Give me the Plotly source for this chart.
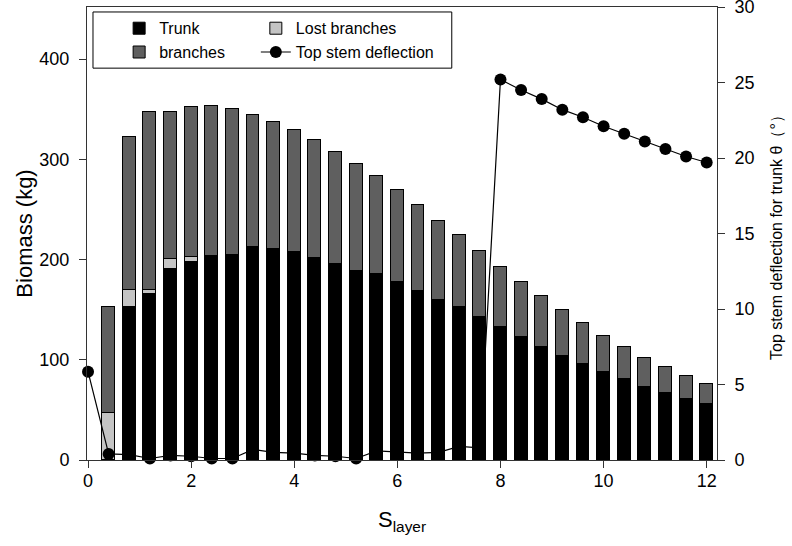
import plotly.graph_objects as go

# ---- data ----
s_layer = [0.4, 0.8, 1.2, 1.6, 2.0, 2.4, 2.8, 3.2, 3.6, 4.0,
           4.4, 4.8, 5.2, 5.6, 6.0, 6.4, 6.8, 7.2, 7.6, 8.0,
           8.4, 8.8, 9.2, 9.6, 10.0, 10.4, 10.8, 11.2, 11.6, 12.0]
total_biomass = [153, 322.5, 347.5, 347.5, 352, 353, 350, 344, 337, 329,
                 319, 307.5, 295, 283, 269, 254, 238.7, 224.4, 208.5, 192.8,
                 178, 163.6, 149.6, 136.4, 124, 112.5, 101.5, 93, 84, 75.8]
trunk = [0, 152.6, 165.6, 190.5, 197.5, 203.5, 204.5, 212.8, 210.5, 207.2,
         202, 195.5, 188.5, 186, 178, 169, 159.6, 152.3, 142.3, 132.4,
         122.4, 113, 104, 95.8, 87.5, 80.5, 73.1, 66.5, 60.8, 55.6]
lost_branches = [47, 17, 4, 10, 5, 0, 0, 0, 0, 0,
                 0, 0, 0, 0, 0, 0, 0, 0, 0, 0,
                 0, 0, 0, 0, 0, 0, 0, 0, 0, 0]
branches = [round(t - tr - lb, 1) for t, tr, lb in zip(total_biomass, trunk, lost_branches)]

s_deflect = [0.0, 0.4, 0.8, 1.2, 1.6, 2.0, 2.4, 2.8, 3.2, 3.6, 4.0,
             4.4, 4.8, 5.2, 5.6, 6.0, 6.4, 6.8, 7.2, 7.6, 8.0,
             8.4, 8.8, 9.2, 9.6, 10.0, 10.4, 10.8, 11.2, 11.6, 12.0]
deflection = [5.85, 0.4, 0.35, 0.1, 0.3, 0.25, 0.1, 0.1, 0.7, 0.5, 0.45,
              0.3, 0.25, 0.1, 0.6, 0.5, 0.45, 0.5, 0.9, 0.8, 25.2,
              24.5, 23.9, 23.2, 22.7, 22.1, 21.6, 21.1, 20.6, 20.1, 19.7]

x_ticks = [0, 2, 4, 6, 8, 10, 12]
left_ticks = [0, 100, 200, 300, 400]
right_ticks = [0, 5, 10, 15, 20, 25, 30]

FONT = "Liberation Sans, Arial, sans-serif"
bar_line = dict(color="#000000", width=1)

fig = go.Figure()

fig.add_trace(go.Bar(x=s_layer, y=trunk, name="Trunk", width=0.25,
                     marker=dict(color="#000000", line=bar_line),
                     yaxis="y", legend="legend", legendrank=1))
fig.add_trace(go.Bar(x=s_layer, y=lost_branches, name="Lost branches", width=0.25,
                     marker=dict(color="#c4c4c4", line=bar_line),
                     yaxis="y", legend="legend2", legendrank=1))
fig.add_trace(go.Bar(x=s_layer, y=branches, name="branches", width=0.25,
                     marker=dict(color="#5f5f5f", line=bar_line),
                     yaxis="y", legend="legend", legendrank=2))

# deflection line on the right-hand axis
fig.add_trace(go.Scatter(
    x=s_deflect, y=deflection, mode="lines+markers", name="Top stem deflection",
    line=dict(color="#000000", width=1.2),
    marker=dict(color="#000000", size=12),
    cliponaxis=False, yaxis="y2", legend="legend2", legendrank=2))

axis_col = "#333333"
fig.update_layout(
    width=792, height=546,
    margin=dict(l=87, r=75, t=7, b=86),
    paper_bgcolor="white", plot_bgcolor="white",
    barmode="stack", bargap=0,
    font=dict(family=FONT, color="#000000", size=18),
    xaxis=dict(range=[-0.02, 12.2], tickvals=x_ticks, ticks="outside", ticklen=7,
               tickcolor=axis_col, showline=True, linecolor=axis_col, linewidth=1,
               mirror=True, showgrid=False, zeroline=False, automargin=False,
               tickfont=dict(size=18), ticklabelstandoff=-3,
               title=dict(text="S<sub>layer</sub>", font=dict(size=22), standoff=22)),
    yaxis=dict(range=[0, 452], tickvals=left_ticks, side="left",
               ticks="outside", ticklen=7, tickcolor=axis_col, showline=True,
               linecolor=axis_col, linewidth=1, showgrid=False, zeroline=False,
               automargin=False, tickfont=dict(size=18), ticklabelstandoff=6,
               title=dict(text="Biomass (kg)", font=dict(size=22), standoff=0)),
    yaxis2=dict(range=[0, 30], tickvals=right_ticks, side="right", overlaying="y",
                ticks="outside", ticklen=7, tickcolor=axis_col, showline=True,
                linecolor=axis_col, linewidth=1, showgrid=False, zeroline=False,
                automargin=False, tickfont=dict(size=18), ticklabelstandoff=6,
                ticklabeloverflow="allow",
                title=dict(text="Top stem deflection for trunk θ（°）",
                           font=dict(size=16), standoff=17)),
    legend=dict(x=0.051, y=0.9905, xanchor="left", yanchor="top",
                bgcolor="rgba(0,0,0,0)", font=dict(size=16), traceorder="normal",
                tracegroupgap=0, itemwidth=30),
    legend2=dict(x=0.268, y=0.9905, xanchor="left", yanchor="top",
                 bgcolor="rgba(0,0,0,0)", font=dict(size=16), traceorder="normal",
                 tracegroupgap=0, itemwidth=30),
    shapes=[dict(type="rect", xref="paper", yref="paper",
                 x0=0.0095, x1=0.579, y0=0.865, y1=0.989,
                 line=dict(color="#000000", width=1), fillcolor="rgba(0,0,0,0)")],
    showlegend=True,
)

# remove the browser's default 8px page margin so the figure fills the window
fig.write_html("out.html",
               config={"displayModeBar": False},
               post_script="document.body.style.margin='0px';")
